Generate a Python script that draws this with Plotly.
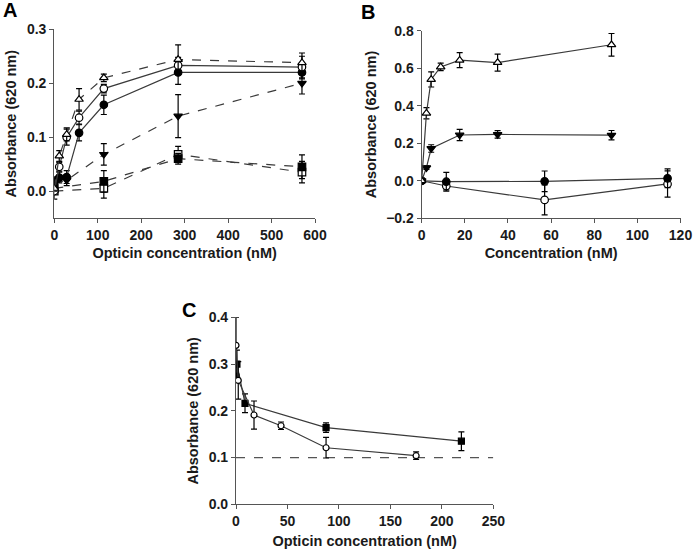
import plotly.graph_objects as go

# ---------------- Panel A data ----------------
a_x7 = [0, 11.4, 28.5, 57, 114, 285, 570]
a_tri_open_y = [0.005, 0.065, 0.105, 0.17, 0.21, 0.244, 0.238]
a_tri_open_err = [0.005, 0.01, 0.012, 0.02, 0.007, 0.027, 0.018]
a_circ_open_y = [0.0, 0.045, 0.10, 0.136, 0.19, 0.233, 0.23]
a_circ_open_err = [0.005, 0.008, 0.015, 0.012, 0.008, 0.015, 0.02]
a_circ_fill_y = [0.017, 0.025, 0.026, 0.108, 0.16, 0.22, 0.22]
a_circ_fill_err = [0.01, 0.01, 0.012, 0.015, 0.018, 0.022, 0.012]
a_x5 = [0, 28.5, 114, 285, 570]
a_invtri_y = [0.015, 0.02, 0.068, 0.139, 0.2]
a_invtri_err = [0.01, 0.01, 0.02, 0.04, 0.02]
a_x4 = [0, 114, 285, 570]
a_sq_fill_y = [0.005, 0.018, 0.06, 0.045]
a_sq_fill_err = [0.01, 0.02, 0.01, 0.022]
a_sq_open_y = [0.0, 0.005, 0.068, 0.035]
a_sq_open_err = [0.015, 0.018, 0.015, 0.02]

# ---------------- Panel B data ----------------
b_tri_x = [0, 2.2, 4.4, 8.8, 17.6, 35.2, 88]
b_tri_y = [0.0, 0.36, 0.54, 0.607, 0.643, 0.63, 0.725]
b_tri_err = [0.01, 0.03, 0.04, 0.02, 0.04, 0.045, 0.06]
b_invtri_x = [0, 2.2, 4.4, 17.6, 35.2, 88]
b_invtri_y = [0.0, 0.07, 0.172, 0.244, 0.247, 0.243]
b_invtri_err = [0.01, 0.01, 0.02, 0.03, 0.02, 0.025]
b_circ_x = [0, 11.4, 57, 114]
b_circ_fill_y = [0.0, -0.005, -0.003, 0.013]
b_circ_fill_err = [0.01, 0.05, 0.055, 0.05]
b_circ_open_y = [0.0, -0.028, -0.102, -0.017]
b_circ_open_err = [0.01, 0.02, 0.08, 0.07]

# ---------------- Panel C data ----------------
c_open_x = [0, 2.2, 17.5, 43.75, 87.5, 175]
c_open_y = [0.34, 0.265, 0.191, 0.168, 0.121, 0.104]
c_open_err = [0.06, 0.04, 0.03, 0.008, 0.022, 0.008]
c_fill_x = [0, 0.9, 8.75, 87.5, 219]
c_fill_y = [0.272, 0.30, 0.216, 0.164, 0.135]
c_fill_err = [0.01, 0.03, 0.02, 0.01, 0.02]
c_baseline_x = [0, 250]
c_baseline_y = [0.1, 0.1]

LINE = "#3a3a3a"
FONT = "Liberation Sans, Arial, sans-serif"

fig = go.Figure()


def add(x, y, err, symbol, filled, dash, xa, ya, size=7.5):
    fig.add_trace(go.Scatter(
        x=x, y=y, xaxis=xa, yaxis=ya, mode="lines+markers",
        line=dict(color=LINE, width=1.2, dash=dash),
        marker=dict(symbol=symbol, size=size,
                    color="black" if filled else "white",
                    line=dict(color="black", width=1.2)),
        error_y=dict(type="data", array=err, visible=True,
                     color="black", thickness=1.2, width=3),
        showlegend=False,
    ))


# Panel A
add(a_x4, a_sq_open_y, a_sq_open_err, "square", False, "dash", "x", "y")
add(a_x4, a_sq_fill_y, a_sq_fill_err, "square", True, "dash", "x", "y")
add(a_x5, a_invtri_y, a_invtri_err, "triangle-down", True, "dash", "x", "y")
add(a_x7, a_circ_fill_y, a_circ_fill_err, "circle", True, "solid", "x", "y")
add(a_x7, a_circ_open_y, a_circ_open_err, "circle", False, "solid", "x", "y")
add(a_x7, a_tri_open_y, a_tri_open_err, "triangle-up", False, "dash", "x", "y")

# Panel B
add(b_circ_x, b_circ_open_y, b_circ_open_err, "circle", False, "solid", "x2", "y2")
add(b_circ_x, b_circ_fill_y, b_circ_fill_err, "circle", True, "solid", "x2", "y2")
add(b_invtri_x, b_invtri_y, b_invtri_err, "triangle-down", True, "solid", "x2", "y2")
add(b_tri_x, b_tri_y, b_tri_err, "triangle-up", False, "solid", "x2", "y2")

# Panel C
fig.add_trace(go.Scatter(
    x=c_baseline_x, y=c_baseline_y, xaxis="x3", yaxis="y3", mode="lines",
    line=dict(color="#555555", width=1.3, dash="dash"), showlegend=False))
add(c_fill_x, c_fill_y, c_fill_err, "square", True, "solid", "x3", "y3", size=6)
add(c_open_x, c_open_y, c_open_err, "circle", False, "solid", "x3", "y3", size=6)

W, H = 693, 553


def dom_x(a, b):
    return [a / W, b / W]


def dom_y(top, bottom):
    return [1 - bottom / H, 1 - top / H]


tickfont = dict(family=FONT, size=14, color="#1a1a1a", weight="bold")
titlefont = dict(family=FONT, size=14.5, color="#1a1a1a", weight="bold")


def xax(domain, rng, dtick, anchor, title, standoff=5):
    return dict(domain=domain, range=rng, dtick=dtick, tick0=0, anchor=anchor,
                automargin=False, ticklabeloverflow="allow",
                showline=True, linecolor="#555555", linewidth=1.2,
                ticks="outside", ticklen=4, tickwidth=1.2, tickcolor="#555555",
                showgrid=False, zeroline=False, tickfont=tickfont,
                title=dict(text=title, font=titlefont, standoff=standoff))


def yax(domain, rng, dtick, anchor, fmt):
    return dict(domain=domain, range=rng, dtick=dtick, tick0=0, anchor=anchor,
                automargin=False, ticklabeloverflow="allow",
                showline=True, linecolor="#555555", linewidth=1.2,
                ticks="outside", ticklen=4, tickwidth=1.2, tickcolor="#555555",
                showgrid=False, zeroline=False, tickfont=tickfont, tickformat=fmt,
                title=dict(text="Absorbance (620 nm)", font=titlefont, standoff=6))


def label(text, cx, cy):
    return dict(text=text, x=cx / W, y=1 - cy / H, xref="paper", yref="paper",
                xanchor="center", yanchor="middle", showarrow=False,
                font=dict(family=FONT, size=20, color="black", weight="bold"))


fig.update_layout(
    width=W, height=H, margin=dict(l=0, r=0, t=0, b=0, autoexpand=False),
    paper_bgcolor="white", plot_bgcolor="white",
    xaxis=xax(dom_x(54.3, 315), [0, 600], 100, "y", "Opticin concentration (nM)"),
    yaxis=yax(dom_y(29.3, 218), [-0.05, 0.3], 0.1, "x", ".1f"),
    xaxis2=xax(dom_x(421.7, 680.5), [0, 120], 20, "y2", "Concentration (nM)"),
    yaxis2=yax(dom_y(30.7, 218.3), [-0.2, 0.8], 0.2, "x2", ".1f"),
    xaxis3=xax(dom_x(236, 493.3), [0, 250], 50, "y3", "Opticin concentration (nM)", standoff=7),
    yaxis3=yax(dom_y(317.3, 504.3), [0, 0.4], 0.1, "x3", ".1f"),
    annotations=[
        label("A", 9.5, 10.5),
        label("B", 368, 12),
        label("C", 189, 310),
    ],
)

fig.write_html(
    "out.html",
    config={"displayModeBar": False},
    post_script="document.body.style.margin='0';document.body.style.padding='0';",
)
